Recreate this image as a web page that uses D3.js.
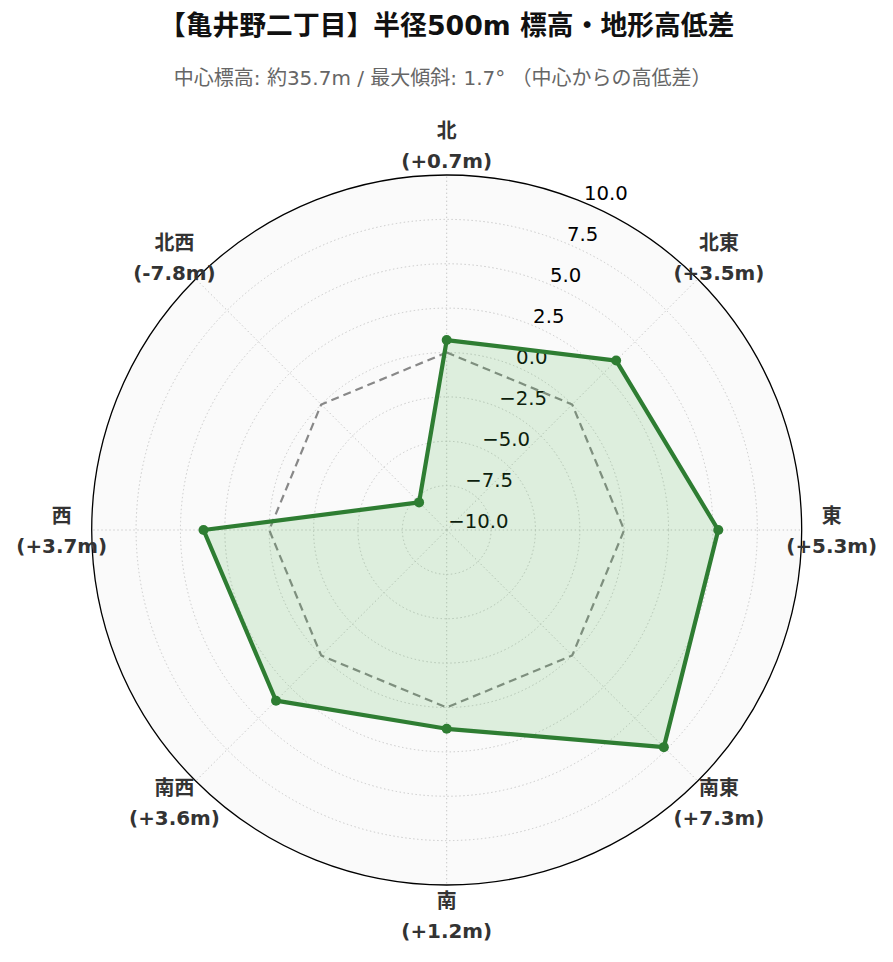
<!DOCTYPE html>
<html>
<head>
<meta charset="utf-8">
<script src="https://cdn.jsdelivr.net/npm/d3@7"></script>
<style>
  html, body { margin: 0; padding: 0; background: #ffffff; }
  svg { display: block; }
</style>
</head>
<body>
<div id="chart"></div>
<script>
// ---- Data ----
const directions = ["北", "北東", "東", "南東", "南", "南西", "西", "北西"];
const diffs = [0.7, 3.5, 5.3, 7.3, 1.2, 3.6, 3.7, -7.8];
const baseline = [0, 0, 0, 0, 0, 0, 0, 0];
const radialTicks = [-10, -7.5, -5, -2.5, 0, 2.5, 5, 7.5, 10];
const titleText = "【亀井野二丁目】半径500m 標高・地形高低差";
const subtitleText = "中心標高: 約35.7m / 最大傾斜: 1.7° （中心からの高低差）";

// ---- Layout ----
const W = 893, H = 962;
const cx = 446.7, cy = 530, R = 355;
const labelR = 385;

const svg = d3.select("#chart").append("svg")
  .attr("width", W).attr("height", H);

const rScale = d3.scaleLinear().domain([-10, 10]).range([0, R]);
const aScale = d3.scaleLinear().domain([0, directions.length]).range([0, 2 * Math.PI]);

const g = svg.append("g").attr("transform", `translate(${cx},${cy})`);

const fontMain = "'DejaVu Sans', 'Noto Sans CJK JP', sans-serif";

// background
g.append("circle").attr("r", R).attr("fill", "#fafafa");

// circular gridlines
g.selectAll("circle.grid")
  .data(radialTicks.filter(t => t > -10 && t < 10))
  .enter().append("circle")
  .attr("class", "grid")
  .attr("r", d => rScale(d))
  .attr("fill", "none")
  .attr("stroke", "#c8c8c8")
  .attr("stroke-width", 1)
  .attr("stroke-dasharray", "1.4,2.6");

// spokes
g.selectAll("line.spoke")
  .data(directions)
  .enter().append("line")
  .attr("class", "spoke")
  .attr("x1", 0).attr("y1", 0)
  .attr("x2", (d, i) => R * Math.sin(aScale(i)))
  .attr("y2", (d, i) => -R * Math.cos(aScale(i)))
  .attr("stroke", "#c8c8c8")
  .attr("stroke-width", 1)
  .attr("stroke-dasharray", "1.4,2.6");

// radial tick labels at 22.5deg
const labAng = Math.PI / 8;
g.selectAll("text.rtick")
  .data(radialTicks)
  .enter().append("text")
  .attr("class", "rtick")
  .attr("x", d => rScale(d) * Math.sin(labAng) + 1.5)
  .attr("y", d => -rScale(d) * Math.cos(labAng) - 2)
  .attr("text-anchor", "start")
  .attr("font-family", fontMain)
  .attr("font-size", 19.7)
  .attr("fill", "#000")
  .text(d => d3.format(".1f")(d).replace("-", "\u2212"));

// radial line generator
const radial = d3.lineRadial()
  .angle((d, i) => aScale(i))
  .radius(d => rScale(d))
  .curve(d3.curveLinearClosed);

// baseline dashed
g.append("path")
  .attr("d", radial(baseline))
  .attr("fill", "none")
  .attr("stroke", "#888888")
  .attr("stroke-width", 2.2)
  .attr("stroke-dasharray", "8,5");

// data fill
g.append("path")
  .attr("d", radial(diffs))
  .attr("fill", "#4caf50")
  .attr("fill-opacity", 0.17)
  .attr("stroke", "none");

// data line
g.append("path")
  .attr("d", radial(diffs))
  .attr("fill", "none")
  .attr("stroke", "#2e7d32")
  .attr("stroke-width", 4.2)
  .attr("stroke-linejoin", "round");

// markers
g.selectAll("circle.pt")
  .data(diffs)
  .enter().append("circle")
  .attr("class", "pt")
  .attr("cx", (d, i) => rScale(d) * Math.sin(aScale(i)))
  .attr("cy", (d, i) => -rScale(d) * Math.cos(aScale(i)))
  .attr("r", 5)
  .attr("fill", "#2e7d32");

// outer circle
g.append("circle").attr("r", R)
  .attr("fill", "none").attr("stroke", "#000").attr("stroke-width", 1.3);

// direction labels
const fmt = v => (v >= 0 ? "+" : "") + v.toFixed(1) + "m";
const dl = g.selectAll("g.dir")
  .data(directions)
  .enter().append("g")
  .attr("class", "dir")
  .attr("transform", (d, i) => `translate(${labelR * Math.sin(aScale(i))},${-labelR * Math.cos(aScale(i))})`);
dl.append("text")
  .attr("y", -7.4)
  .attr("text-anchor", "middle")
  .attr("font-family", fontMain)
  .attr("font-weight", "bold")
  .attr("font-size", 19.9)
  .attr("fill", "#333333")
  .text(d => d);
dl.append("text")
  .attr("y", 22.5)
  .attr("text-anchor", "middle")
  .attr("font-family", fontMain)
  .attr("font-weight", "bold")
  .attr("font-size", 19.9)
  .attr("fill", "#333333")
  .text((d, i) => "(" + fmt(diffs[i]) + ")");

// title
svg.append("text")
  .attr("x", cx).attr("y", 35)
  .attr("text-anchor", "middle")
  .attr("font-family", fontMain)
  .attr("font-weight", "bold")
  .attr("font-size", 26.8)
  .attr("fill", "#111111")
  .text(titleText);

svg.append("text")
  .attr("x", cx - 4).attr("y", 85)
  .attr("text-anchor", "middle")
  .attr("font-family", fontMain)
  .attr("font-size", 20)
  .attr("fill", "#666666")
  .text(subtitleText);
</script>
</body>
</html>
